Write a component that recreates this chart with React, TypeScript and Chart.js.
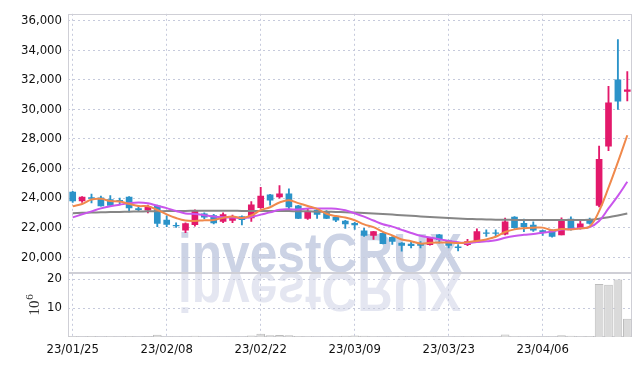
import React, { useEffect, useRef } from 'react';
import { Chart, registerables } from 'chart.js';

Chart.register(...registerables);

// ---- data ----
const dates = [
  '23/01/25', '23/01/26', '23/01/27', '23/01/30', '23/01/31',
  '23/02/01', '23/02/02', '23/02/03', '23/02/06', '23/02/07',
  '23/02/08', '23/02/09', '23/02/10', '23/02/13', '23/02/14',
  '23/02/15', '23/02/16', '23/02/17', '23/02/20', '23/02/21',
  '23/02/22', '23/02/23', '23/02/24', '23/02/27', '23/02/28',
  '23/03/02', '23/03/03', '23/03/06', '23/03/07', '23/03/08',
  '23/03/09', '23/03/10', '23/03/13', '23/03/14', '23/03/15',
  '23/03/16', '23/03/17', '23/03/20', '23/03/21', '23/03/22',
  '23/03/23', '23/03/24', '23/03/27', '23/03/28', '23/03/29',
  '23/03/30', '23/03/31', '23/04/03', '23/04/04', '23/04/05',
  '23/04/06', '23/04/07', '23/04/10', '23/04/11', '23/04/12',
  '23/04/13', '23/04/14', '23/04/17', '23/04/18', '23/04/19',
];

const opens = [
  24400, 23800, 24030, 24020, 23890, 23850, 24070, 23280, 23180, 23470,
  22510, 22160, 21820, 22200, 22930, 22820, 22420, 22490, 22750, 22650,
  23350, 24220, 24070, 24290, 23470, 22620, 23180, 23110, 22690, 22450,
  22290, 21780, 21470, 21620, 21350, 20960, 20880, 20880, 20850, 21510,
  21110, 20700, 20850, 21070, 21650, 21650, 21560, 22710, 22290, 22180,
  21800, 21800, 21510, 22580, 21950, 22510, 23510, 27510, 32000, 31220,
];
const highs = [
  24450, 24100, 24270, 24130, 24170, 24000, 24100, 23470, 23530, 23530,
  22800, 22330, 22330, 23200, 23000, 22900, 23000, 22850, 22800, 23770,
  24730, 24250, 24840, 24620, 23500, 23250, 23250, 23150, 22800, 22500,
  22350, 21950, 21750, 21650, 21400, 20980, 21050, 21050, 21350, 21550,
  21150, 20850, 21200, 21910, 21850, 21850, 22650, 22750, 22580, 22400,
  21830, 21850, 22670, 22730, 22420, 22650, 27510, 31560, 34730, 32550,
];
const lows = [
  23700, 23700, 23670, 23450, 23500, 23600, 23070, 23130, 23000, 22070,
  22070, 22020, 21650, 22100, 22600, 22250, 22330, 22330, 22180, 22420,
  23300, 23520, 23990, 23270, 22600, 22550, 22620, 22600, 22400, 21950,
  21870, 21400, 21200, 20900, 20870, 20400, 20620, 20620, 20820, 20950,
  20620, 20420, 20780, 21050, 21400, 21420, 21500, 21950, 21730, 21750,
  21470, 21350, 21500, 21830, 21900, 22230, 23400, 27200, 30000, 30580,
];
const closes = [
  23800, 24070, 23970, 23470, 23510, 23750, 23330, 23220, 23400, 22290,
  22220, 22110, 22270, 23130, 22710, 22310, 22890, 22710, 22530, 23550,
  24130, 23850, 24290, 23400, 22620, 23110, 22890, 22620, 22510, 22250,
  22180, 21470, 21730, 20910, 21070, 20800, 20780, 20800, 21290, 21180,
  20800, 20650, 21050, 21730, 21600, 21600, 22400, 22000, 22070, 21820,
  21670, 21400, 22510, 21910, 22250, 22290, 26620, 30440, 30560, 31330,
];
// volume in millions of shares
const volumes = [
  0.3, 0.15, 0.35, 0.2, 0.3, 0.2, 0.35, 0.15, 0.25, 0.8,
  0.2, 0.15, 0.2, 0.45, 0.2, 0.15, 0.2, 0.15, 0.2, 0.5,
  1.1, 0.6, 0.7, 0.6, 0.35, 0.3, 0.2, 0.15, 0.3, 0.4,
  0.55, 0.4, 0.3, 0.2, 0.15, 0.3, 0.2, 0.15, 0.2, 0.15,
  0.1, 0.15, 0.3, 0.2, 0.15, 0.2, 0.9, 0.3, 0.2, 0.15,
  0.2, 0.15, 0.6, 0.45, 0.3, 0.35, 18.3, 18.0, 19.8, 6.3,
];
const ma5 = [
  23450, 23600, 23900, 23950, 23800, 23760, 23610, 23460, 23440, 23200,
  22900, 22650, 22480, 22450, 22500, 22520, 22660, 22750, 22650, 22820,
  23180, 23380, 23700, 23850, 23660, 23460, 23270, 22940, 22780, 22680,
  22500, 22220, 22030, 21710, 21470, 21200, 21080, 20920, 20970, 21000,
  20990, 20960, 21010, 21100, 21200, 21380, 21700, 21880, 21960, 21990,
  22000, 21830, 21900, 21880, 21950, 22080, 23120, 24700, 26430, 28250,
];
const ma10 = [
  22690, 22900, 23100, 23300, 23450, 23550, 23650, 23700, 23650, 23480,
  23320, 23130, 22960, 22920, 22840, 22750, 22700, 22680, 22650, 22720,
  22880, 23030, 23210, 23240, 23230, 23300, 23300, 23290, 23280, 23170,
  22970, 22740, 22480, 22230, 22070, 21850, 21640, 21450, 21330, 21220,
  21090, 21010, 20950, 21020, 21070, 21150, 21310, 21430, 21510, 21570,
  21660, 21730, 21880, 21900, 21960, 22030, 22450, 23300, 24150, 25100,
];
const maLong = [
  22980, 23000, 23020, 23040, 23050, 23060, 23080, 23090, 23100, 23110,
  23120, 23120, 23130, 23140, 23140, 23140, 23140, 23140, 23130, 23130,
  23130, 23130, 23130, 23120, 23110, 23100, 23080, 23070, 23060, 23040,
  23020, 22990, 22960, 22920, 22880, 22840, 22800, 22760, 22720, 22690,
  22650, 22620, 22590, 22570, 22550, 22540, 22530, 22520, 22520, 22520,
  22520, 22520, 22520, 22520, 22520, 22530, 22600, 22700, 22820, 22950,
];
const priceTicks = [20000, 22000, 24000, 26000, 28000, 30000, 32000, 34000, 36000];
const volumeTicks = [10, 20];
const labelEvery = 10;

// ---- styles ----
const UP = '#e3196b';
const DOWN = '#2b93c9';
const GRID = '#c6cadc';
const FRAME = '#cfcfd6';
const TICK_FONT = { family: "'DejaVu Sans Condensed', 'DejaVu Sans', sans-serif", size: 13 };

const candleColors = opens.map((o, i) => (closes[i] >= o ? UP : DOWN));

const watermarkPlugin = {
  id: 'watermark',
  beforeDraw(chart: any) {
    const ctx = chart.ctx;
    ctx.save();
    ctx.font = "bold 56px 'Liberation Sans', Arial, sans-serif";
    ctx.textBaseline = 'alphabetic';
    ctx.textAlign = 'left';
    ctx.fillStyle = 'rgb(204,211,229)';
    ctx.fillText('investCRUX', 178, 272, 284);
    ctx.translate(0, 272 * 2 + 1);
    ctx.scale(1, -1);
    ctx.fillStyle = 'rgb(228,230,241)';
    ctx.fillText('investCRUX', 178, 272, 284);
    ctx.restore();
  },
};

const framePlugin = {
  id: 'frames',
  beforeDatasetsDraw(chart: any) {
    const { ctx, chartArea, scales } = chart;
    ctx.save();
    ctx.strokeStyle = FRAME;
    ctx.lineWidth = 1;
    for (const id of ['y', 'yv']) {
      const s = scales[id];
      const top = Math.round(s.top) + 0.5;
      const bottom = Math.round(s.bottom) - 0.5;
      const left = Math.round(chartArea.left) + 0.5;
      const right = Math.round(chartArea.right) - 0.5;
      ctx.strokeRect(left, top, right - left, bottom - top);
    }
    ctx.restore();
  },
};

const unitPlugin = {
  id: 'unitLabel',
  afterDraw(chart: any) {
    const ctx = chart.ctx;
    const s = chart.scales.yv;
    const cy = (s.top + s.bottom) / 2 + 3;
    ctx.save();
    ctx.translate(35, cy);
    ctx.rotate(-Math.PI / 2);
    ctx.fillStyle = '#333';
    ctx.textBaseline = 'middle';
    ctx.textAlign = 'center';
    ctx.font = "15px 'Liberation Serif', 'DejaVu Serif', serif";
    ctx.fillText('10', 0, 0);
    ctx.font = "11px 'Liberation Serif', 'DejaVu Serif', serif";
    ctx.fillText('6', 11, -5);
    ctx.restore();
  },
};

export default function App() {
  const canvasRef = useRef<HTMLCanvasElement | null>(null);

  useEffect(() => {
    if (!canvasRef.current) return;
    const chart = new Chart(canvasRef.current, {
      data: {
        labels: dates,
        datasets: [
          {
            type: 'line',
            label: 'MA5',
            data: ma5,
            yAxisID: 'y',
            borderColor: '#f0894c',
            borderWidth: 2,
            pointRadius: 0,
            tension: 0.4,
            order: 0,
          },
          {
            type: 'line',
            label: 'MA10',
            data: ma10,
            yAxisID: 'y',
            borderColor: '#c955ec',
            borderWidth: 2,
            pointRadius: 0,
            tension: 0.4,
            order: 0,
          },
          {
            type: 'line',
            label: 'MA long',
            data: maLong,
            yAxisID: 'y',
            borderColor: '#868686',
            borderWidth: 2,
            pointRadius: 0,
            tension: 0.4,
            order: 0,
          },
          {
            type: 'bar',
            label: 'body',
            data: opens.map((o, i) => [o, closes[i]]),
            yAxisID: 'y',
            backgroundColor: candleColors,
            barThickness: 6,
            grouped: false,
            order: 1,
          },
          {
            type: 'bar',
            label: 'wick',
            data: lows.map((l, i) => [l, highs[i]]),
            yAxisID: 'y',
            backgroundColor: candleColors,
            barThickness: 1.2,
            grouped: false,
            order: 2,
          },
          {
            type: 'bar',
            label: 'volume',
            data: volumes,
            yAxisID: 'yv',
            backgroundColor: '#dadada',
            borderColor: '#bdbdbd',
            borderWidth: 1,
            barPercentage: 0.92,
            categoryPercentage: 1,
            grouped: false,
            order: 3,
          },
        ] as any,
      },
      options: {
        animation: false,
        responsive: true,
        maintainAspectRatio: false,
        layout: { padding: { top: 9, right: 10, left: 0, bottom: 0 } },
        plugins: { legend: { display: false }, tooltip: { enabled: false } },
        scales: {
          x: {
            type: 'category',
            offset: true,
            grid: {
              offset: false,
              drawTicks: false,
              color: (c: any) => (c.index % labelEvery === 0 ? GRID : 'rgba(0,0,0,0)'),
            },
            border: { display: false, dash: [2, 3] },
            ticks: {
              autoSkip: false,
              maxRotation: 0,
              minRotation: 0,
              padding: 5,
              color: '#111',
              font: TICK_FONT,
              callback: (_v: any, i: number) => (i % labelEvery === 0 ? dates[i] : ''),
            },
            afterFit: (s: any) => {
              s.height = 29;
            },
          },
          yv: {
            type: 'linear',
            position: 'left',
            stack: 'panels',
            stackWeight: 65,
            min: 0,
            max: 22.1,
            grid: { color: GRID, drawTicks: false },
            border: { display: false, dash: [2, 3] },
            afterBuildTicks: (s: any) => {
              s.ticks = volumeTicks.map((v) => ({ value: v }));
            },
            ticks: {
              autoSkip: false,
              padding: 6,
              color: '#111',
              font: TICK_FONT,
              callback: (v: any) => String(v),
            },
            afterFit: (s: any) => {
              s.width = 68;
            },
          },
          y: {
            type: 'linear',
            position: 'left',
            stack: 'panels',
            stackWeight: 263,
            min: 18933,
            max: 36467,
            grid: { color: GRID, drawTicks: false },
            border: { display: false, dash: [2, 3] },
            afterBuildTicks: (s: any) => {
              s.ticks = priceTicks.map((v) => ({ value: v }));
            },
            ticks: {
              autoSkip: false,
              padding: 6,
              color: '#111',
              font: TICK_FONT,
              callback: (v: any) => Number(v).toLocaleString('en-US'),
            },
            afterFit: (s: any) => {
              s.width = 68;
            },
          },
        },
      } as any,
      plugins: [watermarkPlugin, framePlugin, unitPlugin],
    });
    return () => chart.destroy();
  }, []);

  return (
    <div style={{ position: 'fixed', left: 0, top: 0, width: 642, height: 366, background: '#fff' }}>
      <canvas ref={canvasRef} />
    </div>
  );
}
